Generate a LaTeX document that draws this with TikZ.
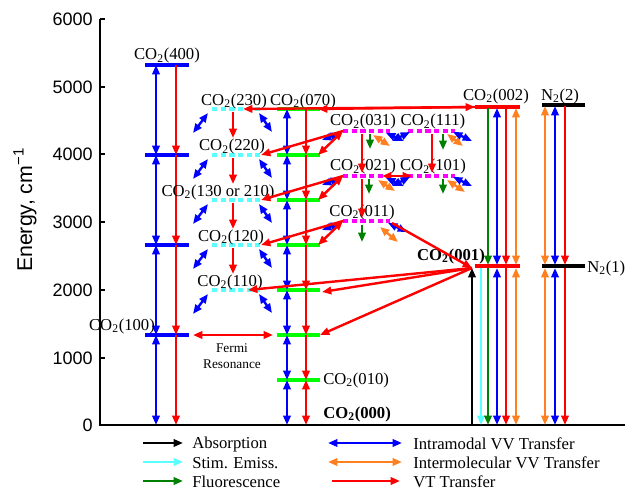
\documentclass[tikz,border=0pt]{standalone}
\usepackage{fontspec}
\setmainfont{Liberation Serif}
\newfontfamily\hv{Liberation Sans}
\usetikzlibrary{arrows.meta,calc}
\definecolor{cB}{RGB}{0,0,255}
\definecolor{cR}{RGB}{255,0,0}
\definecolor{cG}{RGB}{0,128,0}
\definecolor{cLG}{RGB}{0,255,0}
\definecolor{cC}{RGB}{90,255,255}
\definecolor{cO}{RGB}{255,128,32}
\definecolor{cM}{RGB}{255,0,255}
\newcommand\mklevel[5]{\coordinate (#1l) at (#2,#4); \coordinate (#1r) at (#3,#4); \draw[#5] (#1l) -- (#1r);}
\tikzset{
  arr/.style={line width=1.8pt},
  vb/.style={arr,color=cB,<->},
  vr/.style={arr,color=cR,->},
  vrr/.style={arr,color=cR,<->},
  vo/.style={arr,color=cO,<->},
  vg/.style={arr,color=cG,->},
  vc/.style={arr,color=cC,->},
  vk/.style={arr,color=black,->},
  lvB/.style={line width=2.6pt,cB},
  lvG/.style={line width=2.6pt,cLG},
  lvR/.style={line width=2.6pt,cR},
  lvK/.style={line width=2.6pt,black},
  lvC/.style={line width=2.6pt,cC,dash pattern=on 4pt off 2.5pt},
  lvM/.style={line width=2.6pt,cM,dash pattern=on 4pt off 2.5pt},
  lab/.style={font=\fontsize{12.5}{14}\selectfont, inner sep=0pt, anchor=base},
  leg/.style={font=\fontsize{12.5}{14}\selectfont, inner sep=0pt, anchor=west},
  tick/.style={font=\hv\fontsize{13.5}{16}\selectfont, inner sep=0pt, anchor=east}
}
\begin{document}
\begin{tikzpicture}[x=0.75pt,y=-0.75pt,>={Triangle[length=7pt,width=5.5pt]}]
\useasboundingbox (0,0) rectangle (625,492);
% axes
\coordinate (base) at (0,425);
\draw[line width=0.8pt] (100,19) -- (100,425) -- (625,425);
\foreach \v/\yy in {0/425,1000/358,2000/290,3000/222,4000/154,5000/87,6000/19} {
  \draw[line width=0.8pt] (100,\yy) -- (105,\yy);
  \node[tick] (t\v) at (93,\yy) {\v};
}
\node[rotate=90, font=\hv\fontsize{16}{18}\selectfont] (ylab) at (25,210) {Energy, cm\textsuperscript{−1}};

% ---------- column 1 : CO2(n00)
\mklevel{A1}{145}{189}{335}{lvB}
\mklevel{A2}{145}{189}{245}{lvB}
\mklevel{A3}{145}{189}{155}{lvB}
\mklevel{A4}{145}{189}{65}{lvB}
\coordinate (x1b) at (156,0); \coordinate (x1r) at (176,0);
\foreach \a/\b in {base/A1l,A1l/A2l,A2l/A3l,A3l/A4l} \draw[vb] (x1b |- \a) -- (x1b |- \b);
\foreach \a/\b in {A4l/A3l,A3l/A2l,A2l/A1l,A1l/base} \draw[vr] (x1r |- \a) -- (x1r |- \b);
\node[lab] (n400) at (167,60) {CO\textsubscript{2}(400)};
\node[lab] (n100) at (122,330) {CO\textsubscript{2}(100)};

% ---------- column 2 : cyan levels
\mklevel{C7}{212}{260}{109}{lvC}
\mklevel{C6}{212}{260}{155}{lvC}
\mklevel{C5}{212}{260}{200}{lvC}
\mklevel{C4}{212}{260}{245}{lvC}
\mklevel{C3}{212}{260}{290}{lvC}
\foreach \q in {C7,C6,C5,C4} \draw[vr] ($(\q l)+(21,3)$) -- ($(\q l)+(21,29)$);
\foreach \q in {C7,C6,C5,C4,C3} {
  \draw[vb] ($(\q l)+(-19,24)$) -- ($(\q l)+(-4,4)$);
  \draw[vb] ($(\q r)+(-1,4)$) -- ($(\q r)+(12,23)$);
}
\node[lab] (n230) at (234,105) {CO\textsubscript{2}(230)};
\node[lab] (n220) at (232,151) {CO\textsubscript{2}(220)};
\node[lab] (n210) at (218,196) {CO\textsubscript{2}(130 or 210)};
\node[lab] (n120) at (231,241) {CO\textsubscript{2}(120)};
\node[lab] (n110) at (230,286) {CO\textsubscript{2}(110)};
\draw[vrr] ($(A1r)+(4,0)$) -- (273,335);
\node[font=\fontsize{10}{12}\selectfont, align=center, inner sep=0pt] (fermi) at (232,356) {Fermi\\Resonance};

% ---------- column 3 : green bending levels
\mklevel{G1}{277}{320}{380}{lvG}
\mklevel{G2}{277}{320}{335}{lvG}
\mklevel{G3}{277}{320}{290}{lvG}
\mklevel{G4}{277}{320}{245}{lvG}
\mklevel{G5}{277}{320}{200}{lvG}
\mklevel{G6}{277}{320}{155}{lvG}
\mklevel{G7}{277}{320}{109}{lvG}
\coordinate (x3b) at (287,0); \coordinate (x3r) at (306,0);
\foreach \a/\b in {base/G1l,G1l/G2l,G2l/G3l,G3l/G4l,G4l/G5l,G5l/G6l,G6l/G7l} \draw[vb] (x3b |- \a) -- (x3b |- \b);
\foreach \a/\b in {G7l/G6l,G6l/G5l,G5l/G4l,G4l/G3l,G3l/G2l,G2l/G1l} \draw[vr] (x3r |- \a) -- (x3r |- \b);
\draw[vrr] (x3r |- G1l) -- (x3r |- base);
\node[lab] (n070) at (303,105) {CO\textsubscript{2}(070)};
\node[lab, anchor=west] (n010) at (323,380) {CO\textsubscript{2}(010)};
\node[lab, anchor=west, font=\fontsize{12.5}{14}\selectfont\bfseries] (n000) at (323,414) {CO\textsubscript{2}(000)};

% ---------- column 4 : magenta combination levels
\mklevel{M31}{343}{390}{131}{lvM}
\mklevel{MOO}{408}{455}{131}{lvM}
\mklevel{M21}{343}{390}{176}{lvM}
\mklevel{MOZ}{408}{455}{176}{lvM}
\mklevel{M11}{343}{390}{221}{lvM}
\node[lab] (n031) at (363,126) {CO\textsubscript{2}(031)};
\node[lab] (n111) at (433,126) {CO\textsubscript{2}(111)};
\node[lab] (n021) at (363,171) {CO\textsubscript{2}(021)};
\node[lab] (n101) at (433,171) {CO\textsubscript{2}(101)};
\node[lab] (n011) at (362,216) {CO\textsubscript{2}(011)};
\draw[vr] ($(M31l)+(19,3)$) -- ($(M21l)+(19,-3)$);
\draw[vr] ($(M21l)+(19,3)$) -- ($(M11l)+(19,-3)$);
\draw[vr] ($(MOOl)+(24,3)$) -- ($(MOZl)+(24,-3)$);
\draw[vrr] ($(M21r)+(-8,0)$) -- ($(MOZl)+(4,0)$);
% fluorescence
\draw[vg] ($(M31l)+(27,3)$) -- ($(M31l)+(27,18)$);
\draw[vg] ($(MOOl)+(35,3)$) -- ($(MOOl)+(35,19)$);
\draw[vg] ($(M21l)+(26,3)$) -- ($(M21l)+(26,18)$);
\draw[vg] ($(MOZl)+(35,3)$) -- ($(MOZl)+(35,18)$);
\draw[vg] ($(M11l)+(19,4)$) -- ($(M11l)+(19,21)$);
% intermolecular
\draw[vo] ($(M31l)+(30,4)$) -- ($(M31l)+(47,15)$);
\draw[vo] ($(MOOl)+(39,3)$) -- ($(MOOl)+(55,15)$);
\draw[vo] ($(M21l)+(35,4)$) -- ($(M21l)+(52,15)$);
\draw[vo] ($(MOZl)+(39,4)$) -- ($(MOZl)+(57,16)$);
\draw[vo] ($(M11l)+(37,6)$) -- ($(M11l)+(55,21)$);
% intramodal
\foreach \q in {M31,M21} {
  \draw[vb] ($(\q r)+(-4,2)$) -- ($(\q r)+(14,10)$);
}
\foreach \q in {MOO,MOZ} {
  \draw[vb] ($(\q l)+(-16,10)$) -- ($(\q l)+(2,1)$);
  \draw[vb] ($(\q r)+(-2,1)$) -- ($(\q r)+(17,10)$);
}
\draw[vb] ($(M11r)+(-2,2)$) -- ($(M11r)+(17,11)$);
\foreach \q in {M31,M21,M11} \draw[vb] ($(\q l)+(-21,9)$) -- ($(\q l)+(-3,2)$);
% VT transfers to left
\foreach \q/\c/\g in {M31/C6/G6,M21/C5/G5,M11/C4/G4} {
  \draw[vr] (\q l) -- ($(\c r)+(1,0)$);
  \draw[vrr] (\q l) -- ($(\g r)+(-2,0)$);
}

% ---------- column 5 : CO2(001), CO2(002)
\mklevel{E1}{475}{520}{266}{lvR}
\mklevel{E2}{475}{520}{107}{lvR}
\node[lab, font=\fontsize{12.5}{14}\selectfont\bfseries] (n001) at (451,260) {CO\textsubscript{2}(001)};
\node[lab] (n002) at (496,100) {CO\textsubscript{2}(002)};
\coordinate (e1) at (472,268);
\draw[vrr] ($(C7l)+(31,0)$) -- (E2l);
\draw[vr] (E2l) -- ($(G7r)+(-2,0)$);
\draw[vr] ($(M11r)+(2,2)$) -- (e1);
\draw[vr] (e1) -- ($(C3l)+(36,0)$);
\draw[vr] (e1) -- ($(G3r)+(2,2)$);
\draw[vr] (e1) -- (G2r);
\coordinate (xk) at (472,0); \coordinate (xc) at (481,0); \coordinate (xg) at (488,0);
\coordinate (xb) at (497,0); \coordinate (xr) at (506,0); \coordinate (xo) at (516,0);
\draw[vk] (xk |- base) -- (xk |- e1);
\draw[vc] (xc |- e1) -- (xc |- base);
\draw[vg] ($(xg |- E2l)+(0,1)$) -- ($(xg |- E1l)+(0,-1)$);
\draw[vg] ($(xg |- E1l)+(0,2)$) -- (xg |- base);
\draw[vb] ($(xb |- E2l)+(0,1)$) -- ($(xb |- E1l)+(0,-1)$);
\draw[vb] ($(xb |- E1l)+(0,2)$) -- (xb |- base);
\draw[vr] ($(xr |- E2l)+(0,1)$) -- ($(xr |- E1l)+(0,-1)$);
\draw[vr] ($(xr |- E1l)+(0,2)$) -- (xr |- base);
\draw[vo] ($(xo |- E2l)+(0,1)$) -- ($(xo |- E1l)+(0,-1)$);
\draw[vo] ($(xo |- E1l)+(0,2)$) -- (xo |- base);

% ---------- column 6 : N2
\mklevel{N1}{542}{585}{266}{lvK}
\mklevel{N2}{542}{585}{105}{lvK}
\node[lab] (nN2) at (560,100) {N\textsubscript{2}(2)};
\node[lab, anchor=west] (nN1) at (587,268) {N\textsubscript{2}(1)};
\coordinate (yo) at (545,0); \coordinate (yb) at (555,0); \coordinate (yr) at (565,0);
\draw[vo] ($(yo |- N2l)+(0,1)$) -- ($(yo |- N1l)+(0,-1)$);
\draw[vo] ($(yo |- N1l)+(0,2)$) -- (yo |- base);
\draw[vb] ($(yb |- N2l)+(0,1)$) -- ($(yb |- N1l)+(0,-1)$);
\draw[vb] ($(yb |- N1l)+(0,2)$) -- (yb |- base);
\draw[vr] ($(yr |- N2l)+(0,1)$) -- ($(yr |- N1l)+(0,-1)$);
\draw[vr] ($(yr |- N1l)+(0,2)$) -- (yr |- base);

% ---------- legend
\coordinate (la1) at (143,443); \coordinate (la2) at (183,443);
\coordinate (lb1) at (143,462); \coordinate (lb2) at (183,462);
\coordinate (lc1) at (143,481); \coordinate (lc2) at (183,481);
\coordinate (ld1) at (328,443); \coordinate (ld2) at (402,443);
\coordinate (le1) at (328,462); \coordinate (le2) at (402,462);
\coordinate (lf1) at (332,481); \coordinate (lf2) at (400,481);
\draw[vk] (la1) -- (la2);
\draw[vc] (lb1) -- (lb2);
\draw[vg] (lc1) -- (lc2);
\draw[vb] (ld1) -- (ld2);
\draw[vo] (le1) -- (le2);
\draw[vr] (lf1) -- (lf2);
\node[leg] (ta) at (192,444) {Absorption};
\node[leg] (tb) at (192,463) {Stim. Emiss.};
\node[leg] (tc) at (192,482) {Fluorescence};
\node[leg] (td) at (413,444) {Intramodal VV Transfer};
\node[leg] (te) at (413,463) {Intermolecular VV Transfer};
\node[leg] (tf) at (413,482) {VT Transfer};
\end{tikzpicture}
\end{document}
